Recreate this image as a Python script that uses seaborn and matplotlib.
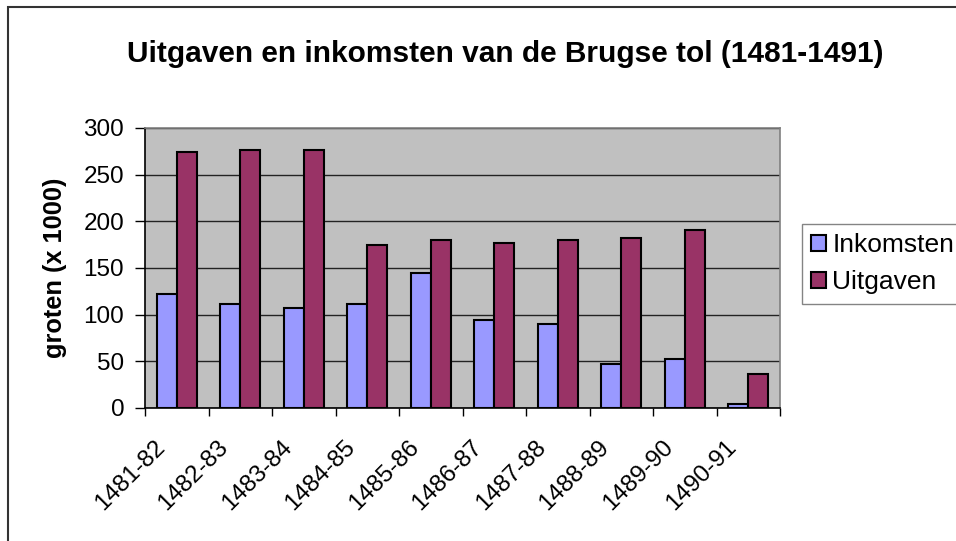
import matplotlib
matplotlib.use("Agg")
import matplotlib.pyplot as plt
import seaborn as sns
import pandas as pd
from matplotlib.patches import Rectangle

years = ["1481-82", "1482-83", "1483-84", "1484-85", "1485-86",
         "1486-87", "1487-88", "1488-89", "1489-90", "1490-91"]
inkomsten = [122, 111, 107, 111, 145, 94, 90, 47, 53, 4]
uitgaven = [274, 276, 276, 175, 180, 177, 180, 182, 191, 36]

df = pd.DataFrame({
    "jaar": years * 2,
    "waarde": inkomsten + uitgaven,
    "reeks": ["Inkomsten"] * len(years) + ["Uitgaven"] * len(years),
})

sns.set_style("white")
plt.rcParams["font.family"] = ["Liberation Sans", "DejaVu Sans"]
plt.rcParams["text.color"] = "black"
plt.rcParams["xtick.color"] = "black"
plt.rcParams["ytick.color"] = "black"
plt.rcParams["axes.labelcolor"] = "black"

W, H = 956, 541
fig = plt.figure(figsize=(W / 100, H / 100), dpi=100)
ax = fig.add_axes([145 / W, 1 - 408 / H, 635 / W, 280 / H])
ax.set_facecolor("#C0C0C0")

sns.barplot(data=df, x="jaar", y="waarde", hue="reeks", ax=ax,
            palette={"Inkomsten": "#9999FF", "Uitgaven": "#993366"},
            width=0.63, edgecolor="black", linewidth=1.5, saturation=1)

ax.set_ylim(0, 300)
ax.set_xlim(-0.5, len(years) - 0.5)
ax.set_yticks(range(0, 301, 50))
ax.yaxis.grid(True, color="#222222", linewidth=1)
ax.set_axisbelow(True)

# tick marks between categories; rotated labels hang just left of centre
ax.set_xticks([i - 0.5 for i in range(len(years) + 1)], minor=False)
ax.set_xticklabels([""] * (len(years) + 1))
ax.set_xticks([i - 0.24 for i in range(len(years))], minor=True)
ax.set_xticklabels(years, minor=True, rotation=45, ha="right", va="center",
                   rotation_mode="anchor", fontsize=17.5)
ax.tick_params(axis="x", which="major", direction="out", length=6,
               width=1, color="black", bottom=True)
ax.tick_params(axis="x", which="minor", length=0, pad=26)
ax.tick_params(axis="y", direction="out", length=7, width=1,
               color="black", left=True, labelsize=17.5, pad=8)

for side in ["left", "bottom"]:
    ax.spines[side].set_color("black")
    ax.spines[side].set_linewidth(1.2)
for side in ["top", "right"]:
    ax.spines[side].set_color("#808080")
    ax.spines[side].set_linewidth(1.2)

ax.set_xlabel("")
ax.set_ylabel("groten (x 1000)", fontsize=18.3, fontweight="bold")
ax.yaxis.set_label_coords((67 - 145) / 635, 0.5)

fig.text(505 / W, 1 - 62 / H,
         "Uitgaven en inkomsten van de Brugse tol (1481-1491)",
         fontsize=21.5, fontweight="bold", ha="center", va="baseline")

handles, labels = ax.get_legend_handles_labels()
ax.legend_.remove()
leg = fig.legend(handles, labels, loc="upper left",
                 bbox_to_anchor=(802 / W, 1 - 224 / H),
                 fontsize=19, frameon=True, fancybox=False,
                 edgecolor="#666666", handlelength=0.55, handleheight=0.55,
                 handletextpad=0.25, labelspacing=0.5, borderpad=0.35,
                 borderaxespad=0)
leg.get_frame().set_linewidth(1)

# chart border: only the left and top edges fall inside the picture
fig.patches.append(Rectangle((8 / W, -0.1), 1.2, 1.1 - 7 / H,
                             transform=fig.transFigure, fill=False,
                             edgecolor="#333333", linewidth=1.5))

fig.savefig("out.png", dpi=100, facecolor="white")
